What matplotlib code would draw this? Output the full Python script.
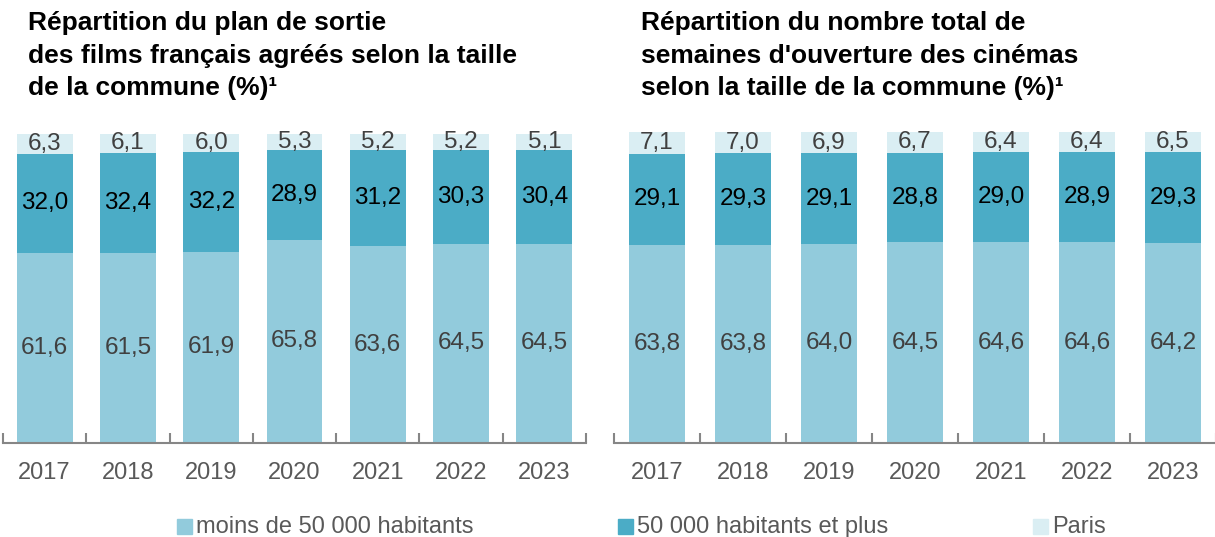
import numpy as np
import matplotlib
matplotlib.use("Agg")
import matplotlib.pyplot as plt

plt.rcParams['font.family'] = ['Liberation Sans', 'DejaVu Sans']

years = ['2017', '2018', '2019', '2020', '2021', '2022', '2023']

# gauche : plan de sortie des films français agréés
films_petites = [61.6, 61.5, 61.9, 65.8, 63.6, 64.5, 64.5]
films_grandes = [32.0, 32.4, 32.2, 28.9, 31.2, 30.3, 30.4]
films_paris = [6.3, 6.1, 6.0, 5.3, 5.2, 5.2, 5.1]

# droite : semaines d'ouverture des cinémas
sem_petites = [63.8, 63.8, 64.0, 64.5, 64.6, 64.6, 64.2]
sem_grandes = [29.1, 29.3, 29.1, 28.8, 29.0, 28.9, 29.3]
sem_paris = [7.1, 7.0, 6.9, 6.7, 6.4, 6.4, 6.5]

series_names = ['moins de 50 000 habitants', '50 000 habitants et plus', 'Paris']
colors = ['#92CBDC', '#4BACC6', '#DAEEF3']
label_colors = ['#404040', '#000000', '#404040']

title_left = "Répartition du plan de sortie\ndes films français agréés selon la taille\nde la commune (%)¹"
title_right = "Répartition du nombre total de\nsemaines d'ouverture des cinémas\nselon la taille de la commune (%)¹"

W, H = 1215, 537
fig = plt.figure(figsize=(W / 100, H / 100), dpi=100)

def fx(px):
    return px / W

def fy(px):
    return 1 - px / H

def draw(ax, data, width):
    x = np.arange(len(years))
    bottom = np.zeros(len(years))
    for vals, c, tc in zip(data, colors, label_colors):
        vals = np.array(vals)
        ax.bar(x, vals, width=width, bottom=bottom, color=c, edgecolor='none')
        for xi, b, v in zip(x, bottom, vals):
            ax.text(xi, b + v / 2, f"{v:.1f}".replace('.', ','), ha='center', va='center',
                    fontsize=17.5, color=tc)
        bottom += vals
    ax.set_xlim(-0.5, len(years) - 0.5)
    ax.set_ylim(0, 100)
    for s in ['top', 'right', 'left']:
        ax.spines[s].set_visible(False)
    ax.spines['bottom'].set_color('#868686')
    ax.spines['bottom'].set_linewidth(1.5)
    ax.set_yticks([])
    ax.set_xticks(x)
    ax.set_xticklabels(years, fontsize=17, color='#595959')
    ax.tick_params(axis='x', which='major', length=0, pad=14)
    ax.set_xticks(np.arange(len(years) + 1) - 0.5, minor=True)
    ax.tick_params(axis='x', which='minor', direction='in', length=7, width=1.5, color='#868686')

# axes gauche : x 3..586, y 134..443
ax1 = fig.add_axes([fx(3), fy(443), fx(586 - 3), (443 - 134) / H])
draw(ax1, [films_petites, films_grandes, films_paris], 0.67)

# axes droite : x 614..1216, y 132..443
ax2 = fig.add_axes([fx(614), fy(443), fx(1216 - 614), (443 - 132) / H])
draw(ax2, [sem_petites, sem_grandes, sem_paris], 0.66)

fig.text(fx(28), fy(11), title_left, ha='left', va='top', fontsize=19,
         fontweight='bold', linespacing=1.45)
fig.text(fx(641), fy(11), title_right, ha='left', va='top', fontsize=19,
         fontweight='bold', linespacing=1.45)

# légende
leg_x = [177, 618, 1033]
for lx, name, c in zip(leg_x, series_names, colors):
    fig.patches.append(plt.Rectangle((fx(lx), fy(534)), fx(15), 15 / H, color=c,
                                     transform=fig.transFigure, figure=fig))
    fig.text(fx(lx + 19), fy(527), name, ha='left', va='center', fontsize=17, color='#595959')

fig.savefig('out.png', dpi=100)
